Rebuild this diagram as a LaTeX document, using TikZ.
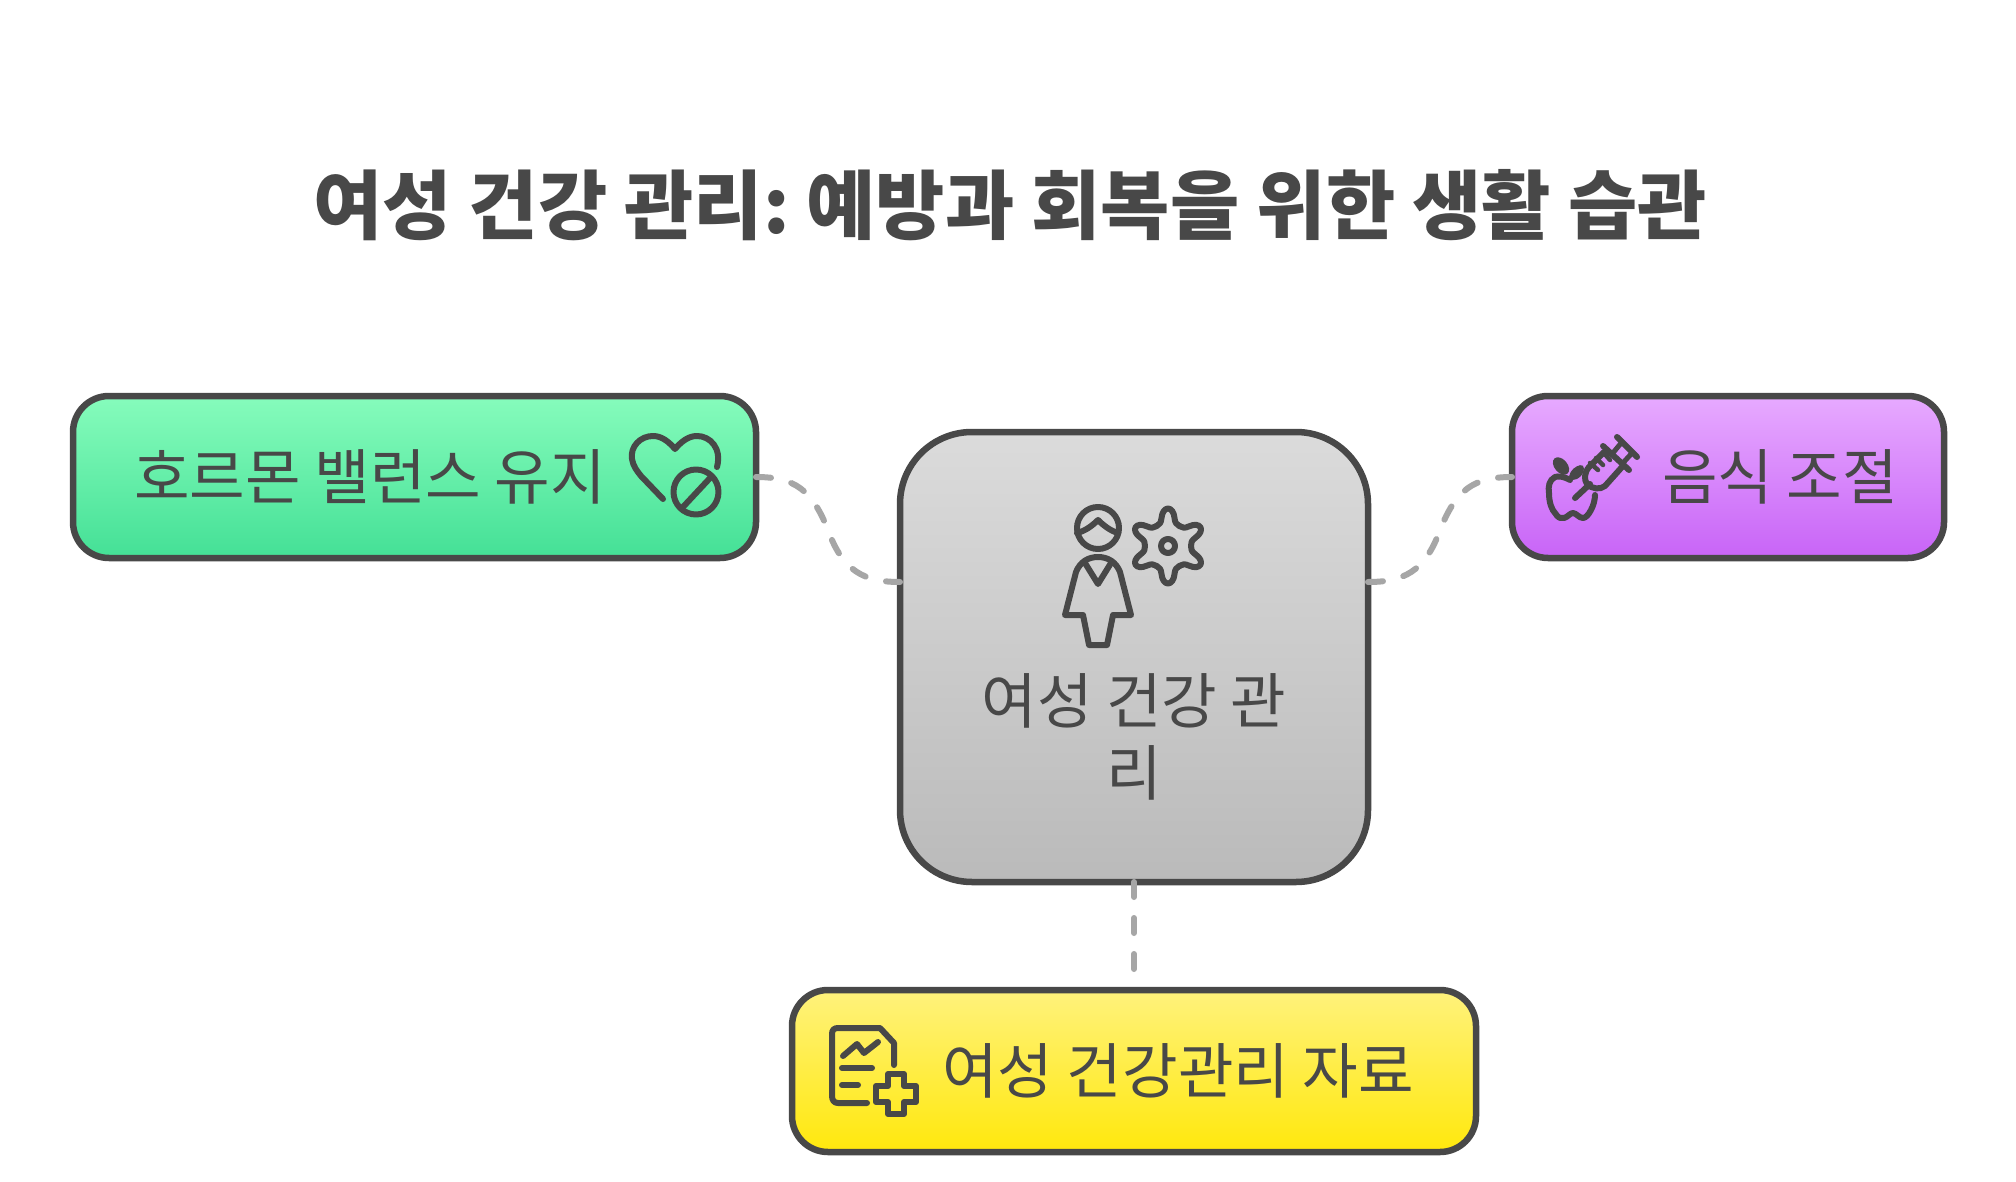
\documentclass[tikz,border=0pt]{standalone}
\usepackage{fontspec}
\setmainfont{Noto Sans CJK KR}
\definecolor{ink}{HTML}{484848}
\definecolor{wire}{HTML}{A6A6A6}
\definecolor{gray1}{HTML}{DBDBDB}
\definecolor{gray2}{HTML}{BABABA}
\definecolor{green1}{HTML}{86FCBC}
\definecolor{green2}{HTML}{44E096}
\definecolor{purp1}{HTML}{E7AAFF}
\definecolor{purp2}{HTML}{C864F7}
\definecolor{yel1}{HTML}{FFF27C}
\definecolor{yel2}{HTML}{FFE80C}
\begin{document}
\begin{tikzpicture}[x=1pt,y=-1pt,
  box/.style={draw=ink,line width=6.5pt,rounded corners=#1,inner sep=0pt,outer sep=0pt},
  lbl/.style={text=ink,inner sep=0pt,font=\fontsize{60.4}{72}\selectfont,align=center},
  link/.style={draw=wire,line width=6pt,line cap=round,dash pattern=on 15pt off 21pt},
  ico/.style={draw=ink,line width=6pt,line cap=round,line join=round}]
\useasboundingbox (0,0) rectangle (2016,1182);
\fill[white] (0,0) rectangle (2016,1182);
% boxes
\node[box=72pt,top color=gray1,bottom color=gray2,minimum width=468pt,minimum height=450pt] (c) at (1134,657) {};
\node[box=36pt,top color=green1,bottom color=green2,minimum width=683pt,minimum height=162pt] (g) at (414.5,477) {};
\node[box=36pt,top color=purp1,bottom color=purp2,minimum width=432pt,minimum height=162pt] (p) at (1728,477) {};
\node[box=36pt,top color=yel1,bottom color=yel2,minimum width=684pt,minimum height=162pt] (y) at (1134,1071) {};
% connectors
\coordinate (cl) at ([yshift=75pt]c.west);
\coordinate (cr) at ([yshift=75pt]c.east);
\draw[link] (g.east) .. controls (795,477) and (812,490) .. (828,530) .. controls (843,572) and (865,582) .. (cl);
\draw[link] (cr) .. controls (1403,582) and (1425,572) .. (1440,530) .. controls (1456,490) and (1473,477) .. (p.west);
\draw[link,shorten >=15pt] (c.south) -- (y.north);
% texts
\node[text=ink,inner sep=0pt,font=\fontsize{75.3}{88}\selectfont\bfseries] (title) at (1010,205) {여성 건강 관리:\kern-6pt{} 예방과 회복을 위한 생활 습관};
\node[lbl] (gt) at (370,477) {호르몬 밸런스 유지};
\node[lbl] (pt) at (1780,477) {음식 조절};
\node[lbl] (yt) at (1178,1071) {여성 건강관리 자료};
\node[lbl] (ct) at (1134,736.5) {여성 건강 관\\리};
% person and gear
\draw[ico] (1098,528) circle (21);
\draw[ico] (1077,533) .. controls (1085,531) and (1092,526) .. (1098,520) .. controls (1104,526) and (1111,531) .. (1118,533);
\draw[ico] (1065,615) -- (1076,572) .. controls (1080,562) and (1088,557) .. (1098,557) .. controls (1108,557) and (1116,562) .. (1120,572) -- (1131,615) -- (1113,615) -- (1107,645) -- (1089,645) -- (1083,615) -- cycle;
\draw[ico] (1085,563) -- (1098,584) -- (1111,563);
\foreach \a in {0,60,...,300}
  \draw[ico,shift={(1168,546)},rotate=\a] (-11.5,-19.9) .. controls (-8.5,-21.6) and (-7,-23) .. (-6.5,-28) .. controls (-6,-34) and (-3,-37.5) .. (0,-37.5) .. controls (3,-37.5) and (6,-34) .. (6.5,-28) .. controls (7,-23) and (8.5,-21.6) .. (11.5,-19.9);
\draw[ico] (1168,546) circle (7);
% heart and ban
\draw[ico] (717,467) .. controls (722,448) and (710,436) .. (697,436) .. controls (688,436) and (681,442) .. (675,449) .. controls (669,442) and (662,436) .. (653,436) .. controls (640,436) and (630,447) .. (632,459) .. controls (633,466) and (637,471) .. (641,476) -- (663,499);
\draw[ico] (696,492) circle (22.5);
\draw[ico] (683,507) -- (711,477);
% apple and syringe
\draw[ico] (1570,480) .. controls (1563,476) and (1558,476) .. (1555,477) .. controls (1549,480) and (1548,487) .. (1549,493) .. controls (1549,503) and (1552,510) .. (1555,513) .. controls (1558,518) and (1561,519) .. (1564,518) .. controls (1568,517) and (1570,513) .. (1573,513) .. controls (1576,513) and (1579,518) .. (1583,518) .. controls (1588,518) and (1595,505) .. (1595,495);
\fill[ink,rotate around={-50:(1561,466)}] (1561,466) ellipse (10 and 6.5);
\draw[ico,fill=ink] (1572,477) .. controls (1573,472) and (1577,469) .. (1581,468) .. controls (1581,473) and (1577,477) .. (1572,477) -- cycle;
\draw[ico] (1617,437) -- (1637,457);
\draw[ico] (1603,446) -- (1629,470);
\draw[ico,line width=5pt] (1612,454) -- (1622,442);
\draw[ico,line width=5pt] (1622,464) -- (1632,453);
\draw[ico] (1603,453) -- (1589,467) .. controls (1584,473) and (1584,480) .. (1587,484) .. controls (1592,489) and (1600,490) .. (1605,486) -- (1622,467);
\draw[ico,line width=4.5pt] (1603,452) -- (1610,460);
\draw[ico,line width=4.5pt] (1596,458) -- (1603,465);
\draw[ico,line width=4.5pt] (1590,463) -- (1598,470);
\draw[ico] (1590,484) -- (1575,498);
% document with plus
\draw[ico] (894,1065) -- (894,1043) -- (880,1028) -- (838,1028) .. controls (834,1028) and (832,1030) .. (832,1034) -- (832,1096) .. controls (832,1100) and (834,1103) .. (838,1103) -- (867,1103);
\draw[ico] (843,1056) -- (857,1044) -- (864,1053) -- (878,1042);
\draw[ico] (842,1068) -- (872,1068);
\draw[ico] (842,1085) -- (858,1085);
\draw[ico] (888,1074) -- (904,1074) -- (904,1086) -- (916,1086) -- (916,1102) -- (904,1102) -- (904,1114) -- (888,1114) -- (888,1102) -- (876,1102) -- (876,1086) -- (888,1086) -- cycle;
\end{tikzpicture}
\end{document}
